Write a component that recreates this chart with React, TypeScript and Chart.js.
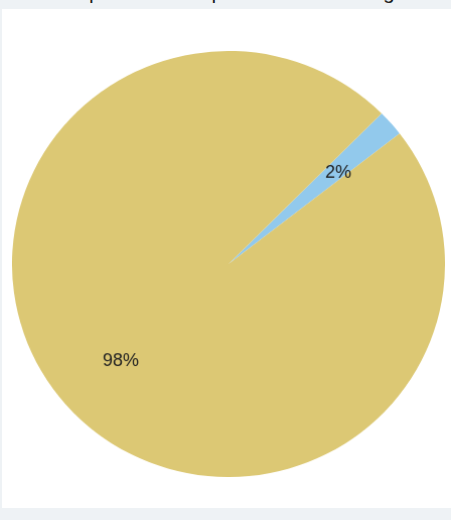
import React, { useEffect, useRef } from "react";
import { Chart, registerables } from "chart.js";

Chart.register(...registerables);

const categories = ["Yes", "No"];
const values = [2, 98];
const colors = ["#92c9ec", "#dcc874"];
const titleText = "Proportion of respondents in training";

const labelPlugin = {
  id: "pctLabels",
  afterDatasetsDraw(chart: any) {
    const ctx = chart.ctx;
    const meta = chart.getDatasetMeta(0);
    const data = chart.data.datasets[0].data as number[];
    const total = data.reduce((a, b) => a + b, 0);
    ctx.save();
    ctx.font = "18px 'Liberation Sans', Arial, sans-serif";
    ctx.fillStyle = "#222222";
    ctx.textAlign = "center";
    ctx.textBaseline = "middle";
    meta.data.forEach((arc: any, i: number) => {
      const p = arc.getProps(["x", "y", "startAngle", "endAngle", "outerRadius"], true);
      const mid = (p.startAngle + p.endAngle) / 2;
      const r = p.outerRadius * 0.67;
      const pct = Math.round((data[i] / total) * 100) + "%";
      ctx.fillText(pct, p.x + 1 + Math.cos(mid) * r, p.y + 3 + Math.sin(mid) * r);
    });
    ctx.restore();
  },
};

export default function App() {
  const ref = useRef<HTMLCanvasElement>(null);
  useEffect(() => {
    document.body.style.margin = "0";
    const chart = new Chart(ref.current!, {
      type: "pie",
      data: {
        labels: categories,
        datasets: [
          {
            data: values,
            backgroundColor: colors,
            borderWidth: 0,
          },
        ],
      },
      options: {
        animation: false,
        responsive: false,
        devicePixelRatio: 1,
        rotation: 45,
        layout: { padding: 0 },
        plugins: {
          legend: { display: false },
          tooltip: { enabled: false },
          title: { display: false },
        },
      },
      plugins: [labelPlugin],
    });
    return () => chart.destroy();
  }, []);

  return (
    <div
      style={{
        position: "relative",
        width: 451,
        height: 520,
        background: "#eef2f5",
        overflow: "hidden",
        fontFamily: "'Liberation Sans', Arial, sans-serif",
      }}
    >
      <div
        style={{
          position: "absolute",
          left: 0,
          top: -18,
          width: 451,
          textAlign: "center",
          fontSize: 21,
          lineHeight: "20px",
          color: "#222",
          whiteSpace: "nowrap",
        }}
      >
        {titleText}
      </div>
      <div
        style={{
          position: "absolute",
          left: 2,
          top: 9,
          width: 449,
          height: 499,
          background: "#ffffff",
        }}
      />
      <canvas
        ref={ref}
        width={430}
        height={430}
        style={{ position: "absolute", left: 12, top: 51, width: 433, height: 426 }}
      />
    </div>
  );
}
